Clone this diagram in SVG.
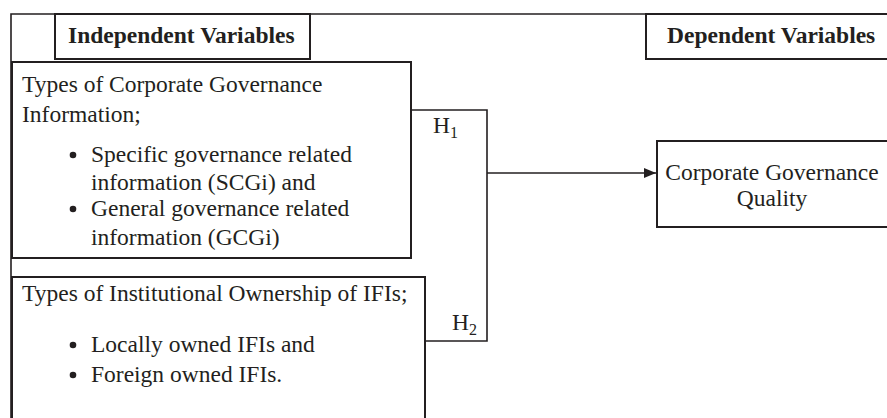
<svg xmlns="http://www.w3.org/2000/svg" width="887" height="418" viewBox="0 0 887 418">
<style>
.t{font-family:"Liberation Serif","Times New Roman",serif;font-size:23.5px;fill:#231f20}
.b{font-weight:bold}
.box{fill:none;stroke:#231f20;stroke-width:2}
.ln{fill:none;stroke:#231f20;stroke-width:1.6}
.sub{font-size:16px}
</style>
<defs>
<marker id="ah" markerWidth="12" markerHeight="10" refX="12" refY="5" orient="auto" markerUnits="userSpaceOnUse">
<path d="M0,0 L12,5 L0,10 Z" fill="#231f20"/>
</marker>
</defs>
<rect width="887" height="418" fill="#ffffff"/>
<g id="frame">
<path class="ln" d="M11,430 V14 H895"/>
</g>
<g id="indep-header">
<rect class="box" x="55" y="14" width="255" height="45"/>
<text class="t b" x="68" y="43">Independent Variables</text>
</g>
<g id="dep-header">
<rect class="box" x="646" y="14" width="260" height="45"/>
<text class="t b" x="667" y="43">Dependent Variables</text>
</g>
<g id="cg-info">
<rect class="box" x="12" y="62" width="399" height="196"/>
<text class="t" x="22" y="92">Types of Corporate Governance</text>
<text class="t" x="22" y="122">Information;</text>
<circle cx="73" cy="155" r="3.3" fill="#231f20"/>
<text class="t" x="91" y="162">Specific governance related</text>
<text class="t" x="91" y="190">information (SCGi) and</text>
<circle cx="73" cy="209" r="3.3" fill="#231f20"/>
<text class="t" x="91" y="216">General governance related</text>
<text class="t" x="91" y="245">information (GCGi)</text>
</g>
<g id="inst-own">
<rect class="box" x="12" y="277" width="413" height="160"/>
<text class="t" x="22" y="301">Types of Institutional Ownership of IFIs;</text>
<circle cx="73" cy="345" r="3.3" fill="#231f20"/>
<text class="t" x="91" y="352">Locally owned IFIs and</text>
<circle cx="73" cy="375" r="3.3" fill="#231f20"/>
<text class="t" x="91" y="382">Foreign owned IFIs.</text>
</g>
<g id="cg-quality">
<rect class="box" x="657" y="141" width="250" height="86"/>
<text class="t" x="772" y="180" text-anchor="middle">Corporate Governance</text>
<text class="t" x="772" y="206" text-anchor="middle">Quality</text>
</g>
<g id="connectors">
<path class="ln" d="M411,110 H487 V341 H425"/>
<path class="ln" d="M487,173 H656" marker-end="url(#ah)"/>
<text class="t" x="433" y="133">H<tspan class="sub" dy="5">1</tspan></text>
<text class="t" x="452" y="330">H<tspan class="sub" dy="5">2</tspan></text>
</g>
</svg>
